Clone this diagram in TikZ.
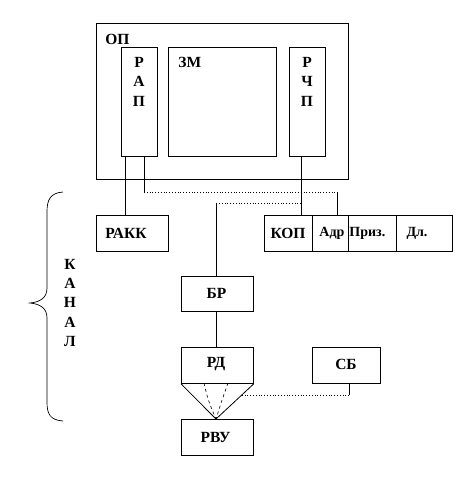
\documentclass[tikz,border=0pt]{standalone}
\usepackage{fontspec}
\setmainfont{Liberation Serif}
\begin{document}
\begin{tikzpicture}[x=1pt,y=-1pt,line width=0.8pt,
  box/.style={draw,rectangle,anchor=north west,inner sep=0pt},
  lbl/.style={font=\fontsize{15.5}{15.5}\selectfont\bfseries,inner sep=0pt},
  slbl/.style={font=\fontsize{14}{14}\selectfont\bfseries,inner sep=0pt},
  dots/.style={dotted,line width=0.8pt}]
\useasboundingbox (0,0) rectangle (465,499);
% main memory
\node[box,minimum width=252pt,minimum height=156pt] (op) at (96,23) {};
\node[box,minimum width=36pt,minimum height=109pt] (rap) at (121,47) {};
\node[box,minimum width=108pt,minimum height=109pt] (zm) at (168,47) {};
\node[box,minimum width=36pt,minimum height=109pt] (rchp) at (289,47) {};
\node[lbl,anchor=west] (opl) at (105,39) {ОП};
\node[lbl] (rap1) at (139,62) {Р};
\node[lbl] (rap2) at (139,81) {А};
\node[lbl] (rap3) at (139,101) {П};
\node[lbl,anchor=west] (zml) at (178,62) {ЗМ};
\node[lbl] (rchp1) at (307,62) {Р};
\node[lbl] (rchp2) at (307,81) {Ч};
\node[lbl] (rchp3) at (307,101) {П};
% registers
\node[box,minimum width=72pt,minimum height=36pt] (rakk) at (96,215) {};
\node[lbl,anchor=west] (rakkl) at (105,233) {РАКК};
\node[box,minimum width=48pt,minimum height=36pt] (kop) at (264,215) {};
\node[box,minimum width=36pt,minimum height=36pt] (adr) at (312,215) {};
\node[box,minimum width=48pt,minimum height=36pt] (priz) at (348,215) {};
\node[box,minimum width=56pt,minimum height=36pt] (dl) at (396,215) {};
\node[lbl] (kopl) at (288,233) {КОП};
\node[slbl,anchor=west] (adrl) at (319,233) {Адр};
\node[slbl,anchor=west] (prizl) at (349,233) {Приз.};
\node[slbl] (dll) at (417,233) {Дл.};
\node[box,minimum width=72pt,minimum height=35pt] (br) at (181,276) {};
\node[lbl] (brl) at (216.5,293) {БР};
\node[box,minimum width=72pt,minimum height=36pt] (rd) at (181,347) {};
\node[lbl] (rdl) at (216,364) {РД};
\node[box,minimum width=68pt,minimum height=36pt] (sb) at (312,347) {};
\node[lbl] (sbl) at (346,364) {СБ};
\node[box,minimum width=72pt,minimum height=36pt] (rvu) at (181,419) {};
\node[lbl] (rvul) at (215.5,437) {РВУ};
% connectors
\coordinate (a1) at (144,192);
\coordinate (a2) at (337,192);
\coordinate (b1) at (301,203);
\coordinate (b2) at (216,203);
\draw (rap.south west) ++(4,0) coordinate (r1) -- (r1 |- rakk.north);
\draw (a1 |- rap.south) -- (a1);
\draw[dots] (a1) -- (a2);
\draw (a2) -- (a2 |- adr.north);
\draw (rchp.south west) ++(12,0) coordinate (c1) -- (c1 |- kop.north);
\draw[dots] (b1) -- (b2);
\draw (b2) -- (b2 |- br.north);
\draw (br.south -| b2) -- (rd.north -| b2);
\coordinate (tip) at (216,419);
\draw (rd.south west) -- (tip) -- (rd.south east);
\draw[dashed,line width=0.6pt] (204,383) coordinate (d1) .. controls (208,400) .. (tip);
\draw[dashed,line width=0.6pt] (228,383) coordinate (d2) .. controls (222,400) .. (tip);
\coordinate (s1) at (349,395);
\coordinate (s2) at (241,395);
\draw (sb.south -| s1) -- (s1);
\draw[dots] (s1) -- (s2);
% brace
\draw[line width=0.7pt] (63,192) .. controls (50,193) and (47,200) .. (47,212)
  -- (47,288) .. controls (47,298) and (40,302) .. (30,303)
  .. controls (40,304) and (47,308) .. (47,318)
  -- (47,402) .. controls (47,414) and (50,420) .. (63,421);
\node[lbl] (k1) at (70,264) {К};
\node[lbl] (k2) at (70,283) {А};
\node[lbl] (k3) at (70,302) {Н};
\node[lbl] (k4) at (70,322) {А};
\node[lbl] (k5) at (70,341) {Л};
\end{tikzpicture}
\end{document}
